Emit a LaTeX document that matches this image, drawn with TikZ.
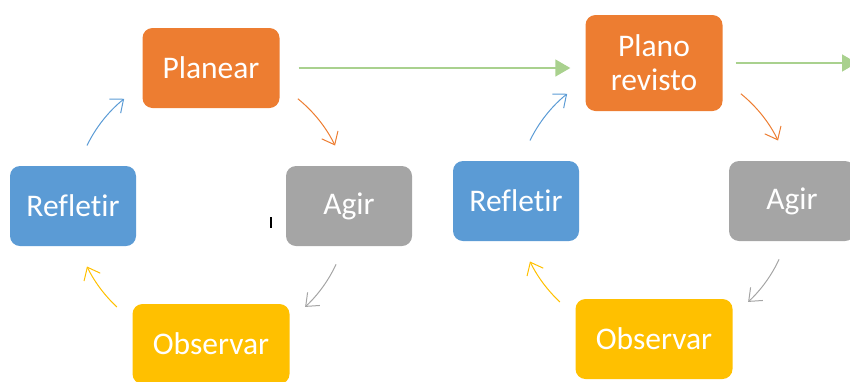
\documentclass[tikz,border=0pt]{standalone}
\usepackage{fontspec}
\setmainfont{Carlito}[Ligatures=NoCommon]
\usetikzlibrary{arrows.meta,positioning}

\definecolor{laranja}{HTML}{ED7D31}
\definecolor{cinza}{HTML}{A5A5A5}
\definecolor{azul}{HTML}{5B9BD5}
\definecolor{amarelo}{HTML}{FFC000}
\definecolor{verde}{HTML}{A9D18E}

\begin{document}
\begin{tikzpicture}[x=1pt,y=-1pt,
  caixa/.style={rounded corners=10pt, text=white, minimum height=80pt, inner sep=0pt,
    align=center, font=\fontsize{31.5}{34}\selectfont},
  seta/.style={line width=1pt, -{Straight Barb[length=11pt,width=18pt,line width=1pt]}},
  grande/.style={line width=1.5pt, verde, -{Triangle[length=15pt,width=17pt]}}]
\useasboundingbox (0,0) rectangle (850,381);

% primeiro ciclo
\coordinate (c1) at (211,206);
\node[caixa, fill=laranja, minimum width=137pt] (plan) at (211,68) {Planear};
\node[caixa, fill=cinza, minimum width=126pt] (agir) at (349,206) {Agir};
\node[caixa, fill=azul, minimum width=126pt] (refl) at (73,206) {Refletir};
\node[caixa, fill=amarelo, minimum width=157pt] (obs) at (211,344) {Observar};

\draw[seta, azul] (c1) ++(-154:138) arc[start angle=-154, end angle=-129, radius=138];
\draw[seta, laranja] (c1) ++(-51:138) arc[start angle=-51, end angle=-26, radius=138];
\draw[seta, cinza] (c1) ++(25:138) arc[start angle=25, end angle=47, radius=138];
\draw[seta, amarelo] (c1) ++(133:138) arc[start angle=133, end angle=154, radius=138];
\draw[line width=1.5pt] (271,217) -- (271,228);

% segundo ciclo
\coordinate (c2) at (654,201);
\node[caixa, fill=laranja, minimum width=137pt, minimum height=96pt] (plrev) at (654,63) {Plano\\revisto};
\node[caixa, fill=cinza, minimum width=126pt] (agir2) at (792,201) {Agir};
\node[caixa, fill=azul, minimum width=126pt] (refl2) at (516,201) {Refletir};
\node[caixa, fill=amarelo, minimum width=157pt] (obs2) at (654,339) {Observar};

\draw[seta, azul] (c2) ++(-154:138) arc[start angle=-154, end angle=-129, radius=138];
\draw[seta, laranja] (c2) ++(-51:138) arc[start angle=-51, end angle=-26, radius=138];
\draw[seta, cinza] (c2) ++(25:138) arc[start angle=25, end angle=47, radius=138];
\draw[seta, amarelo] (c2) ++(133:138) arc[start angle=133, end angle=154, radius=138];

% ligacoes
\coordinate (fim) at (857,63);
\draw[grande, shorten <=19pt, shorten >=15pt] (plan.east) -- (plan.east -| plrev.west);
\draw[grande, shorten <=13pt] (plrev.east) -- (fim);
\end{tikzpicture}
\end{document}
